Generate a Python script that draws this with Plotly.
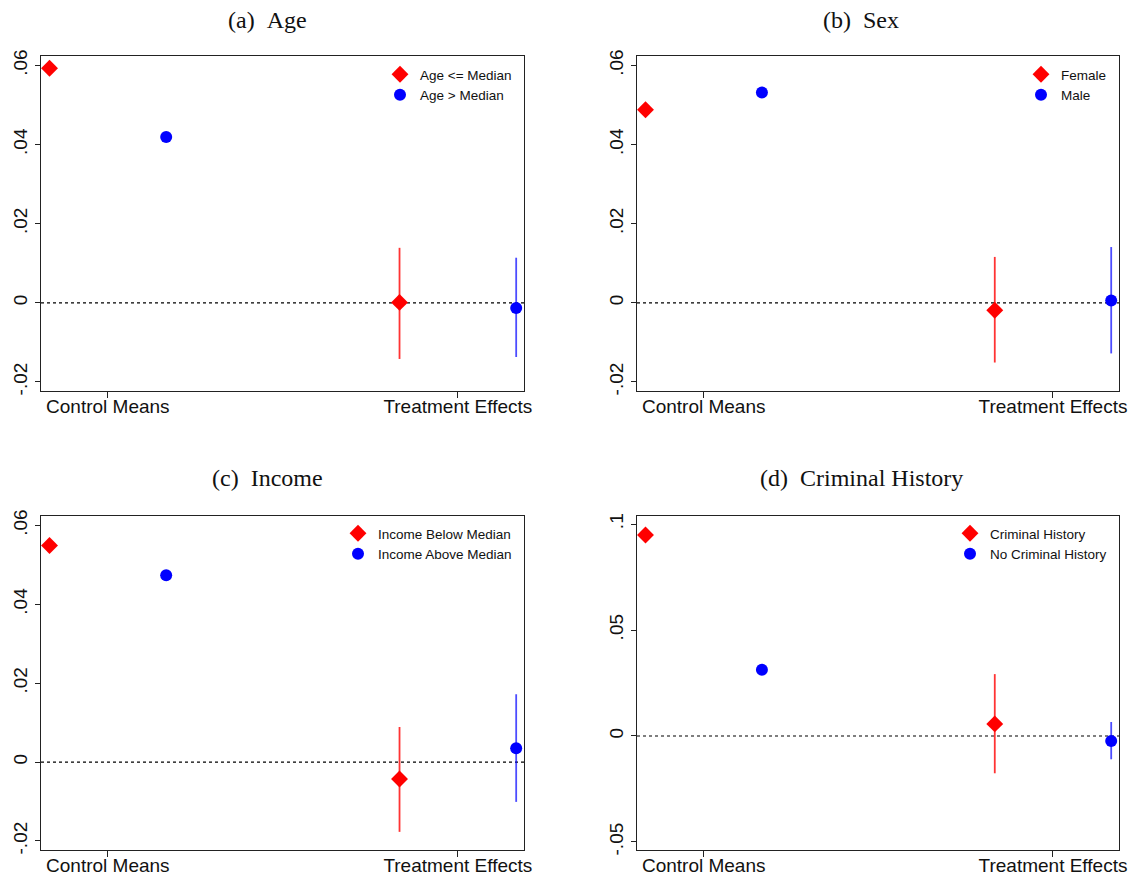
import plotly.graph_objects as go
from plotly.subplots import make_subplots

# ---------------- data ----------------
categories = ["Control Means", "Treatment Effects"]
titles = ["(a)\u2002Age", "(b)\u2002Sex", "(c)\u2002Income", "(d)\u2002Criminal History"]
group1_names = ["Age <= Median", "Female", "Income Below Median", "Criminal History"]
group2_names = ["Age > Median", "Male", "Income Above Median", "No Criminal History"]

group1_control = [0.0593, 0.0488, 0.0549, 0.0948]
group2_control = [0.0419, 0.0532, 0.0474, 0.0313]

group1_te = [0.0001, -0.0019, -0.0043, 0.0057]
group1_lo = [-0.0142, -0.0151, -0.0177, -0.0176]
group1_hi = [0.0139, 0.0116, 0.0089, 0.0292]

group2_te = [-0.0013, 0.0006, 0.0035, -0.0024]
group2_lo = [-0.0137, -0.0128, -0.0101, -0.0110]
group2_hi = [0.0114, 0.0141, 0.0172, 0.0066]

y_tickvals = [[-0.02, 0, 0.02, 0.04, 0.06]] * 3 + [[-0.05, 0, 0.05, 0.1]]
y_ticktext = [["-.02", "0", ".02", ".04", ".06"]] * 3 + [["-.05", "0", ".05", ".1"]]
y_ranges = [[-0.0223, 0.0624]] * 3 + [[-0.0538, 0.1038]]

# ---------------- style ----------------
# The page body keeps the browser's default 8px margin, so every page-pixel
# position is shifted by 8; the figure extends to the bottom of the window.
PAD = 8
W, H = 1137 - 2 * PAD, 879 - PAD
RED = "#FF0000"
BLUE = "#0000FF"
OFF = 1 / 6
SANS = "Liberation Sans, Arial, sans-serif"
SERIF = "Liberation Serif, Times New Roman, serif"


def px(x):
    return (x - PAD) / W


def py(y):
    return 1 - (y - PAD) / H


col_dom = [[px(41), px(524)], [px(637), px(1119)]]
row_dom = [[py(391), py(56)], [py(850), py(516)]]
title_x = [px(267), px(861)]
title_y = [py(20), py(478)]
legend_x = [px(517), px(1112)]
legend_y = [py(59), py(518)]

fig = make_subplots(rows=2, cols=2)

for i in range(4):
    r, c = i // 2 + 1, i % 2 + 1
    leg = "legend" if i == 0 else f"legend{i + 1}"
    # group 1 (red diamonds)
    fig.add_trace(go.Scatter(
        x=[0 - OFF, 1 - OFF], y=[group1_control[i], group1_te[i]],
        mode="markers", name=group1_names[i], legend=leg,
        marker=dict(symbol="diamond", size=13, color=RED),
        error_y=dict(type="data", symmetric=False,
                     array=[0, group1_hi[i] - group1_te[i]],
                     arrayminus=[0, group1_te[i] - group1_lo[i]],
                     color="rgba(255,0,0,0.8)", thickness=1.8, width=0),
    ), row=r, col=c)
    # group 2 (blue circles)
    fig.add_trace(go.Scatter(
        x=[0 + OFF, 1 + OFF], y=[group2_control[i], group2_te[i]],
        mode="markers", name=group2_names[i], legend=leg,
        marker=dict(symbol="circle", size=12, color=BLUE),
        error_y=dict(type="data", symmetric=False,
                     array=[0, group2_hi[i] - group2_te[i]],
                     arrayminus=[0, group2_te[i] - group2_lo[i]],
                     color="rgba(0,0,255,0.7)", thickness=1.8, width=0),
    ), row=r, col=c)
    fig.add_hline(y=0, line=dict(color="black", width=1.2, dash="dot"), row=r, col=c, layer="below")

    xa = "xaxis" if i == 0 else f"xaxis{i + 1}"
    ya = "yaxis" if i == 0 else f"yaxis{i + 1}"
    fig.layout[xa].update(
        domain=col_dom[c - 1], range=[-0.191, 1.189], automargin=False,
        tickvals=[0, 1], ticktext=categories, ticklabelstandoff=-8,
        showgrid=False, zeroline=False,
        showline=True, mirror=True, linecolor="#222", linewidth=1.3,
        ticks="outside", ticklen=6, tickcolor="#222", tickwidth=1.2,
        tickfont=dict(family=SANS, size=19, color="#111"),
    )
    fig.layout[ya].update(
        domain=row_dom[r - 1], range=y_ranges[i], automargin=False,
        tickvals=y_tickvals[i], ticktext=y_ticktext[i], tickangle=-90,
        showgrid=False, zeroline=False,
        showline=True, mirror=True, linecolor="#222", linewidth=1.3,
        ticks="outside", ticklen=5, tickcolor="#222", tickwidth=1.2,
        tickfont=dict(family=SANS, size=19, color="#111"),
    )
    fig.layout[leg] = dict(
        x=legend_x[c - 1], y=legend_y[r - 1], xanchor="right", yanchor="top",
        bgcolor="rgba(0,0,0,0)", borderwidth=0,
        font=dict(family=SANS, size=13.5, color="#111"),
        itemwidth=30, tracegroupgap=0,
    )
    fig.add_annotation(
        text=titles[i], x=title_x[c - 1], y=title_y[r - 1],
        xref="paper", yref="paper", xanchor="center", yanchor="middle",
        showarrow=False, font=dict(family=SERIF, size=24, color="#111"),
    )

fig.update_layout(
    template="none",
    width=W, height=H, margin=dict(l=0, r=0, t=0, b=0, autoexpand=False),
    paper_bgcolor="white", plot_bgcolor="white", showlegend=True,
)

fig.write_html("out.html")
